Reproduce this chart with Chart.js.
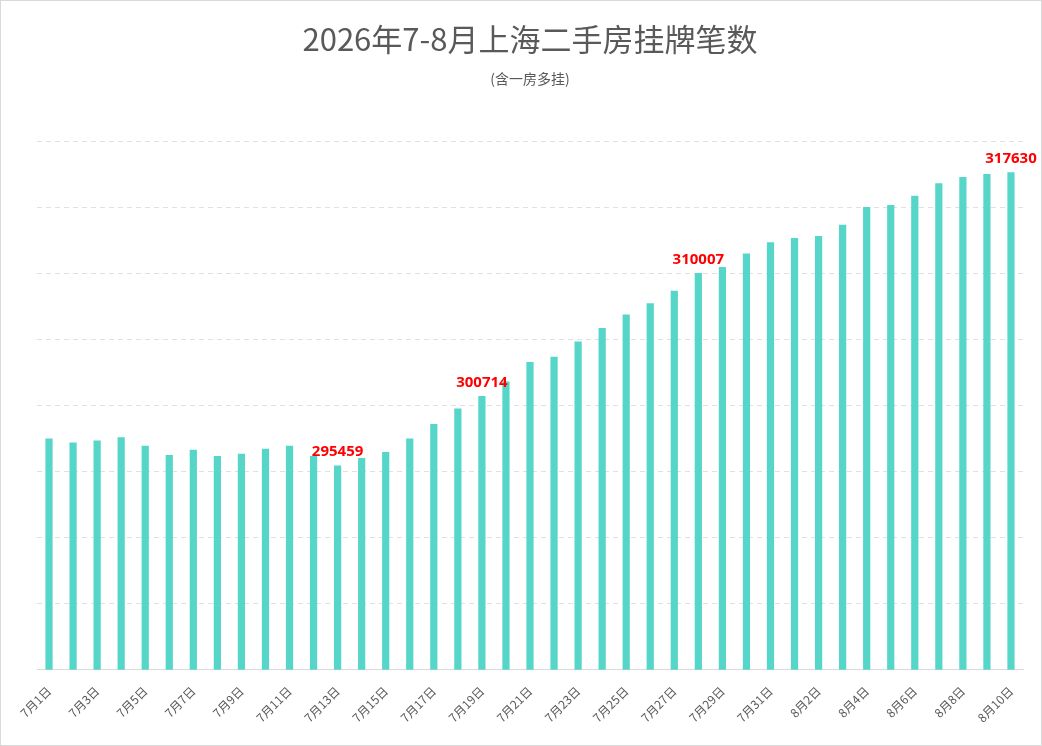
<!DOCTYPE html>
<html><head><meta charset="utf-8">
<script src="https://cdn.jsdelivr.net/npm/chart.js@4"></script>
<style>
html,body{margin:0;padding:0;background:#fff}
#wrap{position:absolute;left:0;top:0;width:1040px;height:744px;border:1px solid #d9d9d9}
</style></head>
<body><div id="wrap"><canvas id="c"></canvas></div>
<script>
// categories: 7月1日 .. 8月10日
const days = [];
for (let d = 1; d <= 31; d++) days.push('7月' + d + '日');
for (let d = 1; d <= 10; d++) days.push('8月' + d + '日');

const listings = [
  297500, 297190, 297340, 297580, 296950, 296250, 296640, 296170, 296330, 296720,
  296950, 296170, 295459, 296020, 296480, 297500, 298590, 299770, 300714, 301800,
  303280, 303670, 304840, 305860, 306880, 307730, 308670, 310007, 310470, 311480,
  312340, 312660, 312810, 313670, 315000, 315160, 315860, 316800, 317270, 317500,
  317630
];
const labelled = [12, 18, 27, 40];

const labelPlugin = {
  id: 'barLabels',
  afterDatasetsDraw(chart) {
    const ctx = chart.ctx;
    const meta = chart.getDatasetMeta(0);
    ctx.save();
    ctx.fillStyle = '#ff0000';
    ctx.font = 'bold 15px "Noto Sans", sans-serif';
    ctx.textAlign = 'center';
    ctx.textBaseline = 'bottom';
    labelled.forEach(i => {
      const bar = meta.data[i];
      ctx.fillText(String(listings[i]), bar.x, bar.y - 6);
    });
    ctx.restore();
  }
};

new Chart(document.getElementById('c'), {
  type: 'bar',
  data: {
    labels: days,
    datasets: [{ data: listings, backgroundColor: '#56d6c9', barPercentage: 0.3, categoryPercentage: 1 }]
  },
  options: {
    responsive: true,
    maintainAspectRatio: false,
    animation: false,
    layout: { padding: { left: 36, right: 18, top: 12, bottom: 14 } },
    plugins: {
      legend: { display: false },
      tooltip: { enabled: false },
      title: { display: true, text: '2026年7-8月上海二手房挂牌笔数', color: '#595959',
        font: { size: 31, family: '"Noto Sans CJK SC", sans-serif', weight: 'normal' }, padding: { top: 8, bottom: 12 } },
      subtitle: { display: true, text: '(含一房多挂)', color: '#595959',
        font: { size: 14, family: '"Noto Sans CJK SC", sans-serif' }, padding: { bottom: 54 } }
    },
    scales: {
      x: {
        grid: { display: false, drawOnChartArea: false },
        border: { color: '#d9d9d9' },
        ticks: { autoSkip: false, maxRotation: 45, minRotation: 45, color: '#595959', padding: 6,
          font: { size: 12, family: '"Noto Sans CJK SC", sans-serif' },
          callback: (v, i) => i % 2 === 0 ? days[i] : '' }
      },
      y: {
        min: 280000, max: 320000,
        ticks: { display: false, stepSize: 5000 },
        border: { display: false, dash: [5, 4] },
        grid: { color: '#e0e0e0', drawTicks: false }
      }
    }
  },
  plugins: [labelPlugin]
});
</script></body></html>
